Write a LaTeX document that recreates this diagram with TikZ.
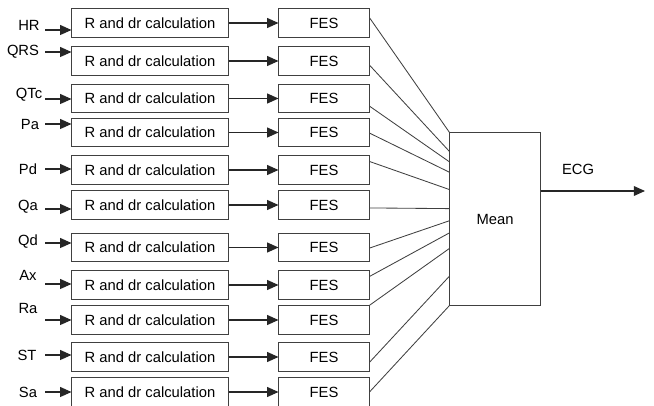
\documentclass[tikz,border=0pt]{standalone}
\usepackage{fontspec}
\setmainfont{Liberation Sans}
\usetikzlibrary{arrows.meta, positioning, calc}
\tikzset{
  calcbox/.style={draw=black!75, line width=0.7pt, inner sep=0pt,
                  minimum width=3.9cm, minimum height=0.71cm,
                  font=\fontsize{10.5}{12}\selectfont},
  fesbox/.style={draw=black!75, line width=0.7pt, inner sep=0pt,
                 minimum width=2.25cm, minimum height=0.71cm,
                 font=\fontsize{10.5}{12}\selectfont},
  meanbox/.style={draw=black!75, line width=0.7pt, inner sep=0pt,
                  minimum width=2.25cm, minimum height=4.3cm,
                  font=\fontsize{10.5}{12}\selectfont},
  sig/.style={inner sep=1pt, font=\fontsize{10.5}{12}\selectfont},
  flow/.style={draw=black!85, line width=0.8pt,
               -{Triangle[length=8pt,width=7pt]}},
  link/.style={draw=black!75, line width=0.6pt},
}
\begin{document}
\begin{tikzpicture}[x=0.025cm, y=-0.025cm]
    \useasboundingbox (0,0) rectangle (654,406);

    %% rows: index / signal / label x / label y / arrow y / row y
    \foreach \n/\lab/\lx/\ly/\ay/\cy in {
        1/HR/29/25/30/23,      2/QRS/23/52/52/61,
        3/QTc/29/95/99/98.5,   4/Pa/30/124/124/132.5,
        5/Pd/28/169/169/170,   6/Qa/28/207/209/205,
        7/Qd/28/242/243/247.5, 8/Ax/28/275/284/285,
        9/Ra/28/308/320/320,   10/ST/27/355/355/357,
        11/Sa/28/392/392/392}
    {
      \node[calcbox] (r\n) at (150,\cy) {R and dr calculation};
      \node[fesbox] (fes\n) at (324,\cy) {FES};
      \node[sig] (in\n) at (\lx,\ly) {\lab};
      \coordinate (a\n) at (45,\ay);
      \draw[flow] (a\n) -- (a\n -| r\n.west);
      \draw[flow] (r\n) -- (fes\n);
    }

    %% mean block
    \node[meanbox] (mean) at (495,219) {Mean};

    %% FES outputs into the mean block
    \foreach \n/\s/\t in {1/0.32/0, 2/0.64/0.11, 3/0.76/0.17,
                          4/0.52/0.23, 5/0.21/0.33, 6/0.6/0.44,
                          7/0.52/0.51, 8/0.21/0.58, 9/0/0.67,
                          10/0.68/0.83, 11/0.5/1}
      \draw[link] ($(fes\n.north east)!\s!(fes\n.south east)$)
                  -- ($(mean.north west)!\t!(mean.south west)$);

    %% output
    \coordinate (out) at (645,191);
    \draw[flow] (mean.east |- out) -- (out);
    \node[sig] (ecg) at (578,169) {ECG};
\end{tikzpicture}
\end{document}
